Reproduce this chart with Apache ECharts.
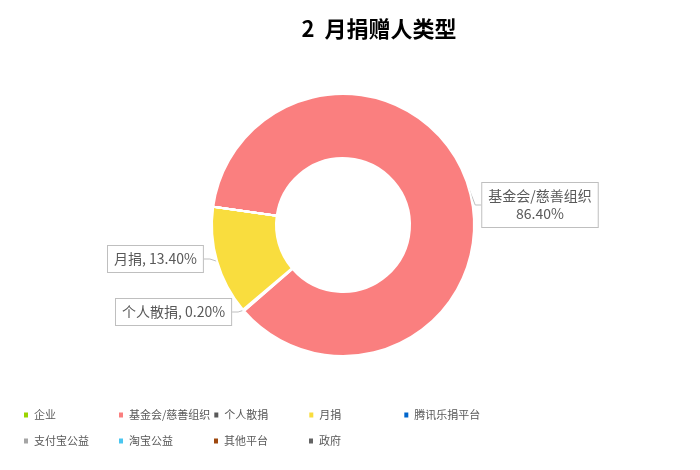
<!DOCTYPE html>
<html>
<head>
<meta charset="utf-8">
<script src="https://cdn.jsdelivr.net/npm/echarts@6/dist/echarts.min.js"></script>
<style>
  html, body { margin: 0; padding: 0; background: #fff; }
  #main { width: 700px; height: 470px; }
</style>
</head>
<body>
<div id="main"></div>
<script>
// 数据
var categories = ['企业', '基金会/慈善组织', '个人散捐', '月捐', '腾讯乐捐平台', '支付宝公益', '淘宝公益', '其他平台', '政府'];
var percents = [0, 86.4, 0.2, 13.4, 0, 0, 0, 0, 0];
var colors = ['#9bd400', '#fa7f7f', '#595959', '#f9dd3e', '#0066cc', '#a5a5a5', '#4ac6f0', '#9e480e', '#636363'];

// 标签框位置
var labelPos = {
  1: { x: 540, y: 183, align: 'center' },
  2: { x: 116, y: 299, align: 'left' },
  3: { x: 108, y: 246, align: 'left' }
};

var myChart = echarts.init(document.getElementById('main'));

var pieData = categories.map(function (name, i) {
  var on = percents[i] > 0;
  return {
    name: name,
    value: percents[i],
    label: { show: on },
    labelLine: { show: on }
  };
});

myChart.setOption({
  color: colors,
  animation: false,
  title: {
    text: '2  月捐赠人类型',
    left: 374,
    top: 13,
    textAlign: 'center',
    textStyle: { fontSize: 22, fontWeight: 'bold', color: '#000', fontFamily: 'Noto Sans CJK SC' }
  },
  legend: {
    data: categories,
    left: 17,
    top: 398,
    width: 475,
    icon: 'rect',
    itemWidth: 6,
    itemHeight: 7,
    itemGap: 2,
    selectedMode: false,
    textStyle: {
      color: '#595959',
      fontSize: 11,
      fontFamily: 'Noto Sans CJK SC',
      width: 81,
      lineHeight: 24
    }
  },
  series: [{
    type: 'pie',
    center: [343, 225],
    radius: [67, 131],
    startAngle: 172,
    clockwise: true,
    avoidLabelOverlap: false,
    itemStyle: { borderColor: '#fff', borderWidth: 2 },
    label: {
      color: '#595959',
      fontSize: 14,
      fontFamily: 'Noto Sans CJK SC',
      backgroundColor: '#fff',
      borderColor: '#bfbfbf',
      borderWidth: 1,
      padding: [4, 6],
      lineHeight: 18,
      formatter: function (p) {
        var v = p.value.toFixed(2) + '%';
        if (p.dataIndex === 1) return p.name + '\n' + v;
        return p.name + ', ' + v;
      }
    },
    labelLine: { lineStyle: { color: '#bfbfbf', width: 1 }, length: 8, length2: 6 },
    labelLayout: function (params) {
      var pos = labelPos[params.dataIndex];
      if (!pos) return {};
      return { x: pos.x, y: pos.y, align: pos.align, verticalAlign: 'top' };
    },
    emphasis: { disabled: true },
    data: pieData
  }]
});
</script>
</body>
</html>
